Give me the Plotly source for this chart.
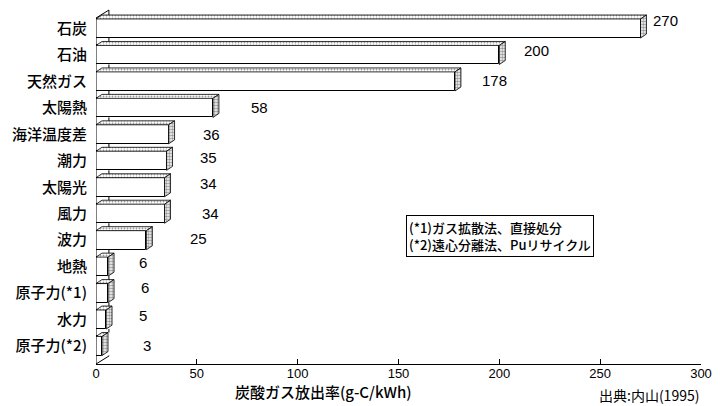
import plotly.graph_objects as go

# CO2 emission intensity by power source (g-C/kWh)
categories = ["石炭", "石油", "天然ガス", "太陽熱", "海洋温度差", "潮力", "太陽光",
              "風力", "波力", "地熱", "原子力(*1)", "水力", "原子力(*2)"]
values = [270, 200, 178, 58, 36, 35, 34, 34, 25, 6, 6, 5, 3]
x_ticks = [0, 50, 100, 150, 200, 250, 300]

# value-label placement (pixel shifts from the bar end)
label_xshift = [25, 37, 40, 47, 43, 42, 44, 46, 52, 35, 37, 37, 45]
label_yshift = [8, 4, 1, 0, 0, 3, 4, 0, 2, 4, 6, 4, 1]

FONT = "Liberation Sans, Arial, Noto Sans CJK JP, sans-serif"
CJK = "Noto Sans CJK JP, sans-serif"

n = len(categories)
pos = list(range(n))
bar_w = 0.72          # front-face thickness (category units)
dx, dy = 2.95, 0.15   # bar depth offset (x units, y units)
wdx, wdy = 6.4, 0.30  # wall depth offset
y_bottom, y_top = 12.68, -0.775
wall_top = -0.397

fig = go.Figure()

# front faces
fig.add_trace(go.Bar(
    x=values, y=pos, orientation="h", width=bar_w,
    marker=dict(color="white", line=dict(color="black", width=1)),
    hoverinfo="skip", showlegend=False,
))


def face(xs, ys, solidity):
    return go.Scatter(
        x=xs, y=ys, mode="lines", fill="toself",
        line=dict(color="black", width=0.8),
        fillcolor="white",
        fillpattern=dict(shape=".", size=3, solidity=solidity,
                         fgcolor="#333", bgcolor="white"),
        hoverinfo="skip", showlegend=False,
    )


# top and side faces, one closed polygon each
for p, v in zip(pos, values):
    y0 = p - bar_w / 2
    y1 = p + bar_w / 2
    fig.add_trace(face([0, v, v + dx, dx, 0],
                       [y0, y0, y0 - dy, y0 - dy, y0], 0.3))
    fig.add_trace(face([v, v + dx, v + dx, v, v],
                       [y0, y0 - dy, y1 - dy, y1, y0], 0.6))

# left wall: front edge and top/bottom bevels
wall = [
    (0, y_bottom, 0, wall_top),
    (0, wall_top, wdx, wall_top - wdy),
    (0, y_bottom, wdx, y_bottom - wdy),
]
# back edge of the wall, visible only in the gaps between bars
gap_tops = [wall_top - wdy] + [p + bar_w / 2 for p in pos]
gap_bottoms = [p - bar_w / 2 - dy for p in pos] + [y_bottom - wdy]
for a, b in zip(gap_tops, gap_bottoms):
    wall.append((wdx, a, wdx, b))

shapes = [dict(type="line", xref="x", yref="y", x0=a, y0=b, x1=c, y1=d,
               line=dict(color="black", width=1), layer="above")
          for a, b, c, d in wall]

annotations = []
for p, v, xs, ys in zip(pos, values, label_xshift, label_yshift):
    annotations.append(dict(
        x=v, y=p, xref="x", yref="y", text=str(v), showarrow=False,
        xanchor="center", yanchor="middle", xshift=xs, yshift=ys,
        font=dict(family=FONT, size=15, color="black"),
    ))

# notes box
annotations.append(dict(
    x=153.7, y=7.05, xref="x", yref="y", xanchor="left", yanchor="top",
    text="(*1)ガス拡散法、直接処分<br>(*2)遠心分離法、Puリサイクル",
    showarrow=False, align="left", bordercolor="black", borderwidth=1,
    borderpad=2, bgcolor="white",
    font=dict(family=CJK, size=13, color="black", weight=500),
))

# axis title
annotations.append(dict(
    x=113, y=-0.078, xref="x", yref="paper", xanchor="center", yanchor="middle",
    text="炭酸ガス放出率(g-C/kWh)", showarrow=False,
    font=dict(family=CJK, size=15, color="black", weight=500),
))

# source
annotations.append(dict(
    x=1.0, y=-0.088, xref="paper", yref="paper", xanchor="right", yanchor="middle",
    text="出典:内山(1995)", showarrow=False,
    font=dict(family=CJK, size=14, color="black"),
))

fig.update_layout(
    width=720, height=406,
    margin=dict(l=96, r=13, t=8, b=42),
    paper_bgcolor="white", plot_bgcolor="white",
    shapes=shapes, annotations=annotations,
    bargap=0,
    xaxis=dict(
        range=[0, 300], tickvals=x_ticks, ticktext=[str(t) for t in x_ticks],
        showline=True, linecolor="black", linewidth=1,
        ticks="inside", ticklen=5, tickcolor="black", tickwidth=1,
        showgrid=False, zeroline=False, ticklabelstandoff=-3,
        tickfont=dict(family=FONT, size=13, color="black"),
    ),
    yaxis=dict(
        range=[y_bottom, y_top], tickvals=pos, ticktext=categories,
        showline=False, showgrid=False, zeroline=False, ticks="",
        ticklabelstandoff=8,
        tickfont=dict(family=CJK, size=15, color="black", weight=500),
    ),
)

fig.write_html("out.html")
